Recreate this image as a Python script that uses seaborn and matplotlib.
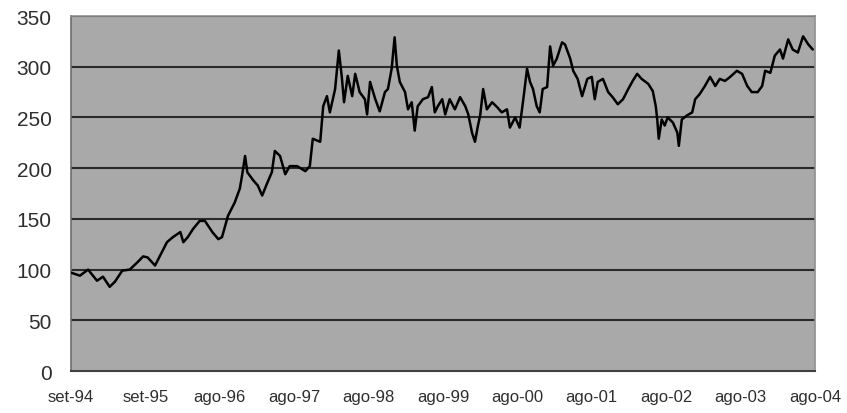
import matplotlib
matplotlib.use("Agg")
import matplotlib.pyplot as plt
import seaborn as sns
import pandas as pd

# values, x = years since set-94
years = [0.00, 0.12, 0.23, 0.35, 0.43, 0.52, 0.59, 0.69, 0.79, 0.89, 0.97,
         1.03, 1.13, 1.20, 1.29, 1.37, 1.47, 1.51, 1.57, 1.64, 1.73, 1.80, 1.90, 1.98,
         2.03, 2.11, 2.20, 2.27, 2.30, 2.34, 2.37, 2.45, 2.51, 2.57, 2.63, 2.70, 2.74,
         2.81, 2.88, 2.94,
         3.04, 3.15, 3.21, 3.25, 3.35, 3.39, 3.44, 3.48, 3.55, 3.60, 3.64, 3.67, 3.72,
         3.78, 3.82, 3.88, 3.95, 3.98,
         4.02, 4.09, 4.15, 4.22, 4.26, 4.31, 4.35, 4.38, 4.42, 4.49, 4.53, 4.58, 4.62,
         4.66, 4.73, 4.80, 4.85, 4.89, 4.93, 4.99,
         5.03, 5.09, 5.16, 5.23, 5.30, 5.34, 5.39, 5.43, 5.47, 5.50, 5.54, 5.59, 5.66,
         5.73, 5.79, 5.86, 5.90, 5.97,
         6.03, 6.08, 6.13, 6.17, 6.21, 6.26, 6.30, 6.34, 6.40, 6.44, 6.48, 6.53, 6.60,
         6.64, 6.71, 6.75, 6.81, 6.87, 6.94,
         7.00, 7.04, 7.08, 7.15, 7.22, 7.28, 7.35, 7.42, 7.49, 7.55, 7.61, 7.67, 7.76,
         7.82, 7.86, 7.88, 7.90, 7.94, 7.98,
         8.02, 8.09, 8.15, 8.17, 8.21, 8.28, 8.35, 8.39, 8.45, 8.52, 8.59, 8.66, 8.72,
         8.79, 8.86, 8.95,
         9.02, 9.09, 9.15, 9.23, 9.29, 9.33, 9.40, 9.46, 9.53, 9.57, 9.64, 9.70, 9.77,
         9.84, 9.91, 9.97]
values = [97, 94, 100, 89, 93, 83, 88, 99, 100, 107, 113,
          112, 104, 114, 127, 132, 137, 127, 132, 140, 148, 148, 137, 130,
          132, 153, 166, 180, 193, 212, 196, 188, 183, 173, 184, 196, 217,
          212, 194, 202,
          202, 197, 202, 229, 226, 261, 271, 255, 278, 316, 290, 265, 291,
          271, 293, 275, 268, 253,
          285, 268, 256, 275, 278, 298, 329, 301, 285, 275, 258, 265, 237,
          261, 268, 270, 280, 255, 261, 268,
          253, 268, 258, 270, 261, 253, 235, 226, 242, 252, 278, 258, 265,
          260, 255, 258, 240, 250,
          240, 268, 298, 285, 278, 261, 255, 278, 280, 320, 301, 308, 324,
          322, 308, 296, 288, 271, 288,
          290, 268, 285, 288, 275, 270, 263, 268, 278, 286, 293, 288, 283,
          276, 261, 248, 229, 248, 242,
          250, 245, 235, 222, 248, 252, 255, 268, 273, 281, 290, 281, 288,
          286, 290, 296,
          293, 281, 275, 275, 281, 296, 294, 311, 317, 308, 327, 317, 314,
          330, 322, 317]

tick_labels = ["set-94", "set-95", "ago-96", "ago-97", "ago-98", "ago-99",
               "ago-00", "ago-01", "ago-02", "ago-03", "ago-04"]
y_ticks = [0, 50, 100, 150, 200, 250, 300, 350]

data_df = pd.DataFrame({"years": years, "value": values})

sns.set_style("white")
plt.rcParams["font.family"] = ["Liberation Sans", "DejaVu Sans"]

fig = plt.figure(figsize=(8.47, 4.14), dpi=100)
ax = fig.add_axes([0.0838, 0.1014, 0.8784, 0.8575])
ax.set_facecolor("#a9a9a9")

# horizontal grid lines drawn black like the excel chart
for v in y_ticks[1:]:
    ax.axhline(v, color="#2a2a2a", lw=1.5, zorder=1)

sns.lineplot(data=data_df, x="years", y="value", color="black", lw=1.8,
             ax=ax, zorder=3)

ax.set_xlim(0, 10)
ax.set_ylim(0, 350)
ax.set_xticks(range(len(tick_labels)))
ax.set_xticklabels(tick_labels, fontsize=12)
ax.set_yticks(y_ticks)
ax.set_yticklabels([str(v) for v in y_ticks], fontsize=15)
ax.set_xlabel("")
ax.set_ylabel("")

ax.tick_params(axis="both", direction="out", length=5, width=1.2,
               color="#333333", labelcolor="#2e2e2e")
ax.tick_params(axis="x", pad=8)
ax.tick_params(axis="y", pad=9)

for side in ["top", "right"]:
    ax.spines[side].set_color("#8f8f8f")
    ax.spines[side].set_linewidth(1.2)
ax.spines["left"].set_color("#6e6e6e")
ax.spines["left"].set_linewidth(1.2)
ax.spines["bottom"].set_color("#404040")
ax.spines["bottom"].set_linewidth(1.5)

plt.savefig("out.png", dpi=100)
